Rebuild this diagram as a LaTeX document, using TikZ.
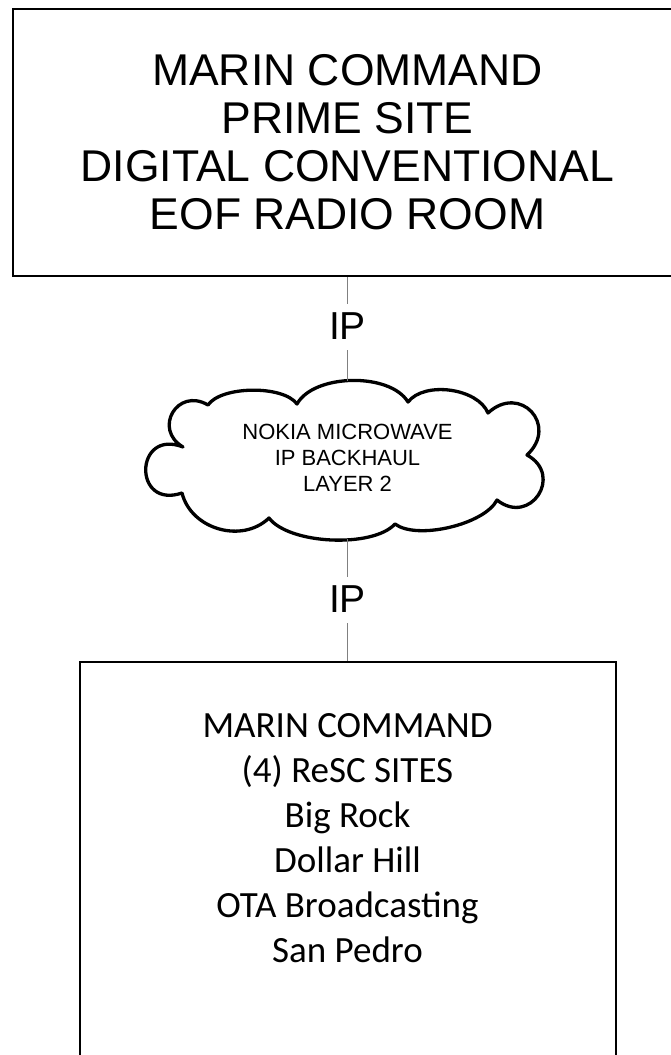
\documentclass[tikz,border=0pt]{standalone}
\usepackage{fontspec}
\setmainfont{Liberation Sans}
\newfontfamily\listfont{Carlito}
\begin{document}
\begin{tikzpicture}[x=1pt,y=1pt,
  sitebox/.style={draw=black, line width=2pt, inner sep=0pt},
  link/.style={draw=black!50, line width=1.3pt},
  iplabel/.style={font=\fontsize{39}{45}\selectfont, inner sep=0pt,
    text height=35pt, text depth=11pt, anchor=base},
  cloudline/.style={draw=black, line width=3.3pt, line join=round},
]
% page frame
\fill[white] (0,0) rectangle (670,-1055);
\useasboundingbox (0,0) rectangle (670,-1055);

% prime site (wider than the page on the right)
\node[sitebox, minimum width=669pt, minimum height=267pt, align=center,
      font=\fontsize{44.5}{48}\selectfont] (prime) at (347.5,-142.5)
  {MARIN COMMAND\\PRIME SITE\\DIGITAL CONVENTIONAL\\EOF RADIO ROOM};

% microwave backhaul cloud
\coordinate (P1) at (297,-404);
\coordinate (P2) at (408,-402);
\coordinate (P3) at (488,-413);
\coordinate (P4) at (527,-455);
\coordinate (P5) at (497,-500);
\coordinate (P6) at (395,-524);
\coordinate (P7) at (269,-518);
\coordinate (P8) at (182,-493);
\coordinate (P9) at (183,-447);
\coordinate (P10) at (208,-405);
\draw[cloudline] (P1)
  to[bend left=60, looseness=0.8] (P2)
  to[bend left=60, looseness=0.85] (P3)
  to[bend left=90, looseness=1.95] (P4)
  to[bend left=95, looseness=2.0] (P5)
  to[bend left=50, looseness=0.67] (P6)
  to[bend left=50, looseness=0.67] (P7)
  to[bend left=60, looseness=1.06] (P8)
  to[bend left=110, looseness=2.9] (P9)
  to[bend left=90, looseness=1.85] (P10)
  to[bend left=55, looseness=0.67] (P1) -- cycle;
\coordinate (cloudN) at (347.5,-381);
\coordinate (cloudS) at (347.5,-539);
\node[font=\fontsize{22}{26}\selectfont, align=center, inner sep=0pt]
  (backhaul) at (347.5,-458) {NOKIA MICROWAVE\\IP BACKHAUL\\LAYER 2};

% remote sites (runs past the bottom of the page)
\node[sitebox, minimum width=536pt, minimum height=500pt, anchor=north]
  (resc) at (347.5,-661) {};
\node[font=\listfont\fontsize{37}{45}\selectfont, align=center, inner sep=0pt,
      anchor=north] (sites) at (347.5,-713)
  {MARIN COMMAND\\(4) ReSC SITES\\Big Rock\\Dollar Hill\\OTA Broadcasting\\San Pedro};

% IP links
\node[iplabel] (ip1) at (347.5,-339) {IP};
\node[iplabel] (ip2) at (347.5,-612) {IP};
\draw[link] (prime.south) -- (ip1.north);
\draw[link] (ip1.south) -- (cloudN);
\draw[link] (cloudS) -- (ip2.north);
\draw[link] (ip2.south) -- (resc.north);
\end{tikzpicture}
\end{document}
